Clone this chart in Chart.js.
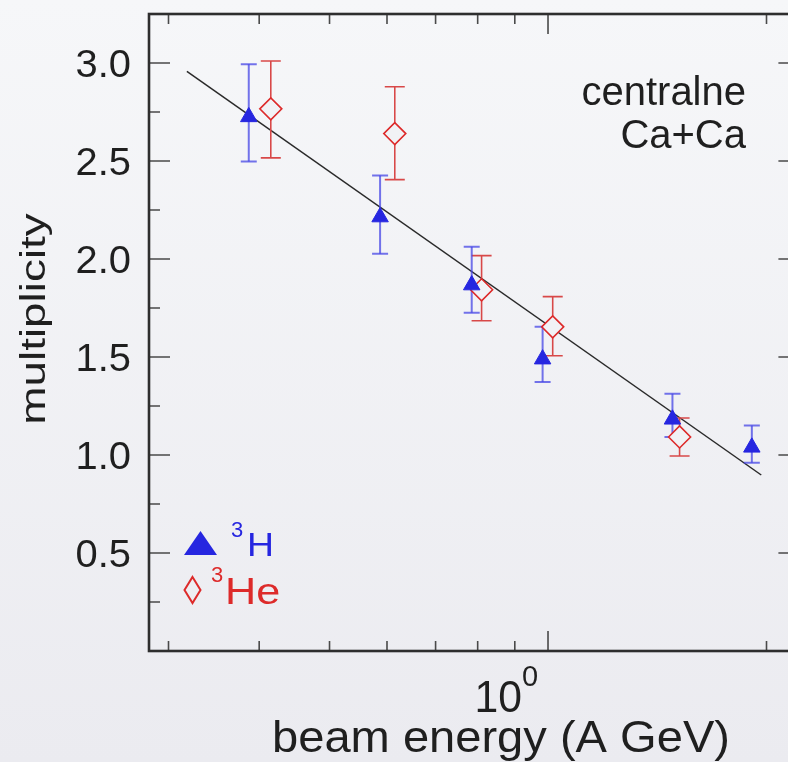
<!DOCTYPE html>
<html><head><meta charset="utf-8">
<script src="https://cdn.jsdelivr.net/npm/chart.js@4/dist/chart.umd.min.js"></script>
<style>
html,body{margin:0;padding:0;width:788px;height:762px;overflow:hidden;background:linear-gradient(#f6f7f9,#ebebf0);}
canvas{display:block;}
</style></head><body>
<canvas id="c" width="812" height="762"></canvas>
<script>
// ---- data ----
const energyH = [0.387, 0.587, 0.785, 0.983, 1.484, 1.909];
const multH = [2.725, 2.214, 1.867, 1.489, 1.182, 1.039];
const errHLow = [2.498, 2.027, 1.726, 1.373, 1.092, 0.961];
const errHHigh = [2.993, 2.426, 2.063, 1.654, 1.312, 1.150];

const energyHe = [0.415, 0.615, 0.810, 1.015, 1.518];
const multHe = [2.766, 2.640, 1.843, 1.654, 1.092];
const errHeLow = [2.516, 2.405, 1.685, 1.506, 0.995];
const errHeHigh = [3.010, 2.879, 2.017, 1.808, 1.189];

const fitX = [0.318, 1.967];
const fitY = [2.957, 0.898];

const xMajorTicks = [1];
const xMinorTicks = [0.3, 0.4, 0.5, 0.6, 0.7, 0.8, 0.9, 2];
const yMajorTicks = [0.5, 1.0, 1.5, 2.0, 2.5, 3.0];
const yMinorTicks = [0.25, 0.75, 1.25, 1.75, 2.25, 2.75];
const yTickLabels = ['0.5', '1.0', '1.5', '2.0', '2.5', '3.0'];

const xTitle = 'beam energy (A GeV)';
const yTitle = 'multiplicity';
const noteLines = ['centralne', 'Ca+Ca'];
const legendLabels = [['3', 'H'], ['3', 'He']];

// ---- styles ----
const BLUE = '#2626e0';
const BLUE_ERR = 'rgba(70,70,230,0.75)';
const RED = '#dd2a2a';
const RED_ERR = '#d84848';
const BG = '#f1f2f5';
const FONT = '"Liberation Sans", Arial, Helvetica, sans-serif';

function errData(xs, lo, hi) {
  const d = [];
  xs.forEach((x, i) => { d.push({x, y: lo[i]}, {x, y: hi[i]}, {x, y: null}); });
  return d;
}
const pts = (xs, ys) => xs.map((x, i) => ({x, y: ys[i]}));

function sText(ctx, txt, x, y, size, sx, align, color, rot) {
  ctx.save();
  ctx.translate(x, y);
  if (rot) ctx.rotate(rot);
  ctx.scale(sx, 1);
  ctx.font = size + 'px ' + FONT;
  ctx.fillStyle = color;
  ctx.textAlign = align;
  ctx.textBaseline = 'alphabetic';
  ctx.fillText(txt, 0, 0);
  ctx.restore();
}

const framePlugin = {
  id: 'frame',
  beforeDatasetsDraw(chart) {
    const {ctx, chartArea: a, scales: {x, y}} = chart;
    ctx.save();
    ctx.strokeStyle = '#4a4a4a';
    ctx.lineWidth = 1.6;
    const tick = (vals, len) => {
      vals.forEach(v => {
        const px = x.getPixelForValue(v);
        ctx.beginPath();
        ctx.moveTo(px, a.bottom); ctx.lineTo(px, a.bottom - len);
        ctx.moveTo(px, a.top); ctx.lineTo(px, a.top + len);
        ctx.stroke();
      });
    };
    const ytick = (vals, len) => {
      vals.forEach(v => {
        const py = y.getPixelForValue(v);
        ctx.beginPath();
        ctx.moveTo(a.left, py); ctx.lineTo(a.left + len, py);
        ctx.moveTo(a.right, py); ctx.lineTo(a.right - len, py);
        ctx.stroke();
      });
    };
    tick(xMinorTicks, 10); tick(xMajorTicks, 20);
    ytick(yMinorTicks, 11); ytick(yMajorTicks, 21);
    ctx.strokeStyle = '#2e2e2e';
    ctx.lineWidth = 2.6;
    ctx.strokeRect(a.left, a.top, a.right - a.left, a.bottom - a.top);
    ctx.restore();
  },
  afterDraw(chart) {
    const {ctx, scales: {x, y}} = chart;
    const dark = '#1f1f1f';
    // y tick labels
    yMajorTicks.forEach((v, i) => {
      sText(ctx, yTickLabels[i], 131, y.getPixelForValue(v) + 14, 38, 1.05, 'right', dark);
    });
    // x tick label 10^0
    const px1 = x.getPixelForValue(xMajorTicks[0]);
    sText(ctx, '10', px1 - 26, 712, 44, 0.97, 'right', dark);
    sText(ctx, '0', px1 - 26, 686, 29, 1.0, 'left', dark);
    // axis titles
    sText(ctx, xTitle, 501, 752, 44, 1.07, 'center', dark);
    sText(ctx, yTitle, 45, 319, 35, 1.31, 'center', dark, -Math.PI / 2);
    // annotation
    sText(ctx, noteLines[0], 746, 105, 40, 1.0, 'right', dark);
    sText(ctx, noteLines[1], 746, 148, 40, 1.0, 'right', dark);
    // legend
    ctx.save();
    ctx.fillStyle = BLUE;
    ctx.beginPath();
    ctx.moveTo(184, 555); ctx.lineTo(217, 555); ctx.lineTo(200.5, 531); ctx.closePath();
    ctx.fill();
    ctx.strokeStyle = RED; ctx.lineWidth = 2;
    ctx.beginPath();
    ctx.moveTo(192.5, 577); ctx.lineTo(200.5, 590); ctx.lineTo(192.5, 603); ctx.lineTo(184.5, 590); ctx.closePath();
    ctx.stroke();
    ctx.restore();
    sText(ctx, legendLabels[0][0], 231, 537, 22, 1.0, 'left', BLUE);
    sText(ctx, legendLabels[0][1], 247, 556, 34, 1.1, 'left', BLUE);
    sText(ctx, legendLabels[1][0], 211, 582, 22, 1.0, 'left', RED);
    sText(ctx, legendLabels[1][1], 225, 604, 36, 1.2, 'left', RED);
  }
};

new Chart(document.getElementById('c'), {
  type: 'scatter',
  data: {
    datasets: [
      {label: 'H3', data: pts(energyH, multH), pointStyle: 'triangle', pointRadius: 9.5,
       backgroundColor: BLUE, borderColor: BLUE, borderWidth: 1, order: 0},
      {label: 'He3', data: pts(energyHe, multHe), pointStyle: 'rectRot', pointRadius: 11,
       backgroundColor: BG, borderColor: RED, borderWidth: 1.6, order: 1},
      {label: 'errH', type: 'line', data: errData(energyH, errHLow, errHHigh), showLine: true, spanGaps: false,
       borderColor: BLUE_ERR, borderWidth: 2, pointStyle: 'line', pointRadius: 8, pointBorderWidth: 2,
       pointBorderColor: BLUE_ERR, order: 3},
      {label: 'errHe', type: 'line', data: errData(energyHe, errHeLow, errHeHigh), showLine: true, spanGaps: false,
       borderColor: RED_ERR, borderWidth: 1.6, pointStyle: 'line', pointRadius: 10, pointBorderWidth: 1.6,
       pointBorderColor: RED_ERR, order: 3},
      {label: 'fit', type: 'line', data: pts(fitX, fitY), showLine: true, borderColor: '#2a2a2a',
       borderWidth: 1.5, pointRadius: 0, order: 5}
    ]
  },
  options: {
    responsive: false,
    animation: false,
    devicePixelRatio: 1,
    layout: {padding: {left: 149, top: 14, right: 12, bottom: 111}},
    plugins: {legend: {display: false}, tooltip: {enabled: false}},
    scales: {
      x: {type: 'logarithmic', min: 0.282, max: 2.22, display: false},
      y: {type: 'linear', min: 0, max: 3.25, display: false}
    }
  },
  plugins: [framePlugin]
});
</script>
</body></html>
